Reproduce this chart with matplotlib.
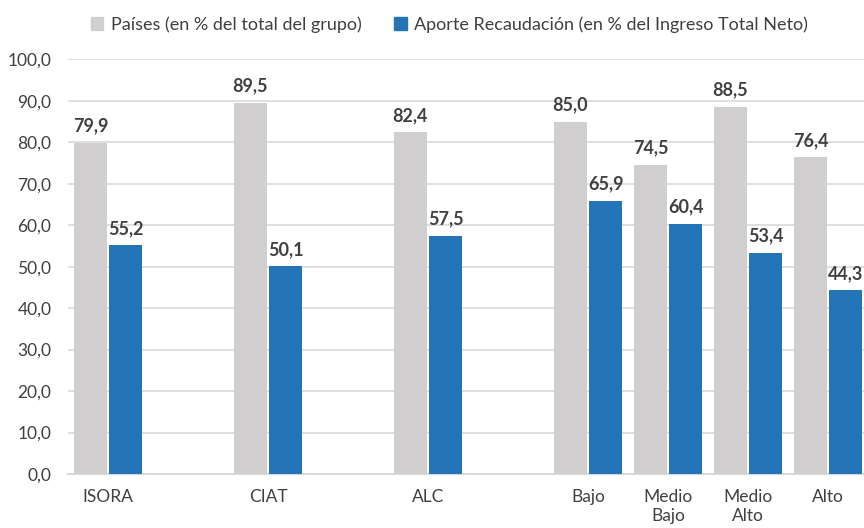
import numpy as np
import matplotlib
matplotlib.use("Agg")
import matplotlib.pyplot as plt
from matplotlib.patches import Patch

plt.rcParams['font.family'] = ['Lato', 'DejaVu Sans']

# data
categories = ['ISORA', 'CIAT', 'ALC', 'Bajo', 'Medio\nBajo', 'Medio\nAlto', 'Alto']
slots = [0, 2, 4, 6, 7, 8, 9]  # empty slots between the first groups
paises = [79.9, 89.5, 82.4, 85.0, 74.5, 88.5, 76.4]
aporte = [55.2, 50.1, 57.5, 65.9, 60.4, 53.4, 44.3]
series_names = ['Países (en % del total del grupo)',
                'Aporte Recaudación (en % del Ingreso Total Neto)']

gray = '#D0CECE'
blue = '#2574B7'
txt = '#404040'

fig = plt.figure(figsize=(8.64, 5.28), dpi=100)
ax = fig.add_axes([68/864, 54/528, 1 - 68/864, (474 - 59.3)/528])

x = np.array(slots, dtype=float)
w = 0.42
b1 = ax.bar(x - w/2 - 0.01, paises, w, color=gray, zorder=3)
b2 = ax.bar(x + w/2 + 0.01, aporte, w, color=blue, zorder=3)

def fmt(v):
    return f'{v:.1f}'.replace('.', ',')

for bars, vals in [(b1, paises), (b2, aporte)]:
    for r, v in zip(bars, vals):
        ax.annotate(fmt(v), (r.get_x() + r.get_width()/2, v), xytext=(0, 6),
                    textcoords='offset points', ha='center', va='bottom',
                    fontsize=13, fontweight='bold', color=txt)

ax.set_xlim(-0.5, 9.45)
ax.set_ylim(0, 100)
ax.set_yticks(np.arange(0, 101, 10))
ax.set_yticklabels([fmt(v) for v in np.arange(0, 101, 10)])
ax.set_xticks(x)
ax.set_xticklabels(categories)
ax.tick_params(axis='both', length=0, labelsize=12.5, colors=txt)
ax.tick_params(axis='y', pad=12)
ax.tick_params(axis='x', pad=11)
ax.grid(axis='y', color='#D9D9D9', linewidth=1.2, zorder=0)
for s in ['top', 'right', 'left']:
    ax.spines[s].set_visible(False)
ax.spines['bottom'].set_color('#D9D9D9')
ax.spines['bottom'].set_linewidth(1.5)

handles = [Patch(color=gray), Patch(color=blue)]
fig.legend(handles, series_names, loc='upper center', bbox_to_anchor=(0.52, 1.0),
           ncol=2, frameon=False, fontsize=13, labelcolor=txt,
           handlelength=0.7, handleheight=0.7, handletextpad=0.4, columnspacing=1.8)

fig.savefig('out.png', dpi=100)
